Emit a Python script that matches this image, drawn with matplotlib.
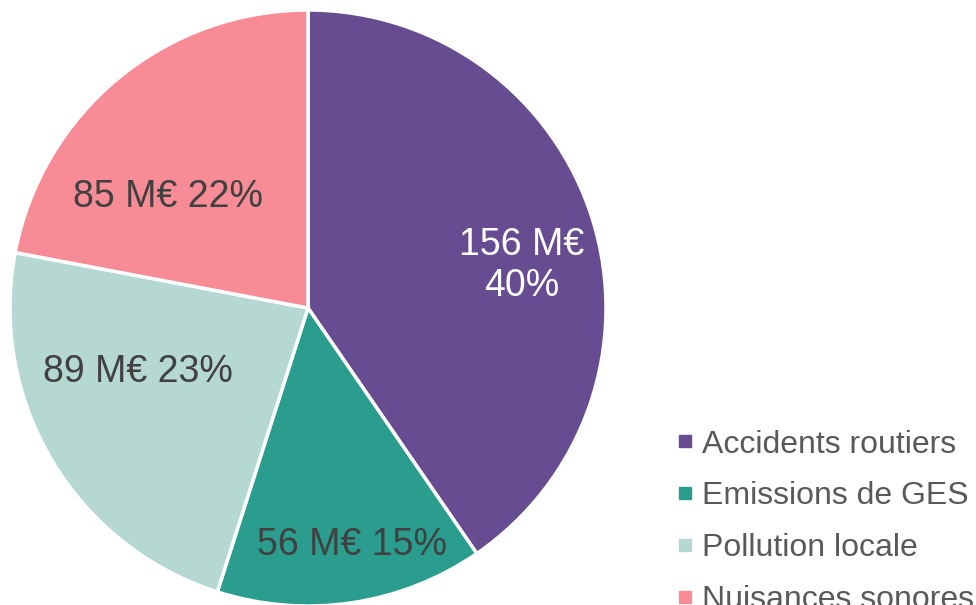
import numpy as np
import matplotlib
matplotlib.use("Agg")
import matplotlib.pyplot as plt
from matplotlib.lines import Line2D

plt.rcParams["font.family"] = ["Liberation Sans", "DejaVu Sans"]

categories = ["Accidents routiers", "Emissions de GES", "Pollution locale", "Nuisances sonores"]
values = [156, 56, 89, 85]
colors = ["#684C91", "#2A9D8F", "#B5D8D2", "#F78B96"]
label_colors = ["white", "#404040", "#404040", "#404040"]
label_formats = ["{v} M€\n{p}%", "{v} M€ {p}%", "{v} M€ {p}%", "{v} M€ {p}%"]
# radial distance (fraction of radius) and angle nudge (deg) for each label
label_dist = [0.73, 0.81, 0.61, 0.60]
label_nudge = [-6, 2, -10, 12]

fig = plt.figure(figsize=(9.76, 6.05), dpi=100)
ax = fig.add_axes([0, 0, 1, 1])

cx, cy, r = 308, 297, 298
wedges, _ = ax.pie(values, colors=colors, startangle=90, counterclock=False,
                   center=(cx, cy), radius=r, frame=True,
                   wedgeprops={"edgecolor": "white", "linewidth": 2.5})
ax.set_xlim(0, 976)
ax.set_ylim(0, 605)
ax.axis("off")

total = sum(values)
for w, v, fmt, col, d, nud in zip(wedges, values, label_formats, label_colors,
                                  label_dist, label_nudge):
    mid = np.deg2rad((w.theta1 + w.theta2) / 2 + nud)
    pct = round(100 * v / total)
    ax.text(cx + d * r * np.cos(mid), cy + d * r * np.sin(mid),
            fmt.format(v=v, p=pct), ha="center", va="center",
            fontsize=27, color=col, linespacing=1.2)

handles = [Line2D([], [], marker="s", linestyle="", markersize=8.5,
                  markerfacecolor=c, markeredgecolor=c) for c in colors]
ax.legend(handles, categories, loc="upper left", bbox_to_anchor=(0.692, 0.290),
          frameon=False, fontsize=23, labelcolor="#595959",
          handlelength=0.6, handletextpad=0.24, labelspacing=0.68,
          borderpad=0, borderaxespad=0)

fig.savefig("out.png", dpi=100)
